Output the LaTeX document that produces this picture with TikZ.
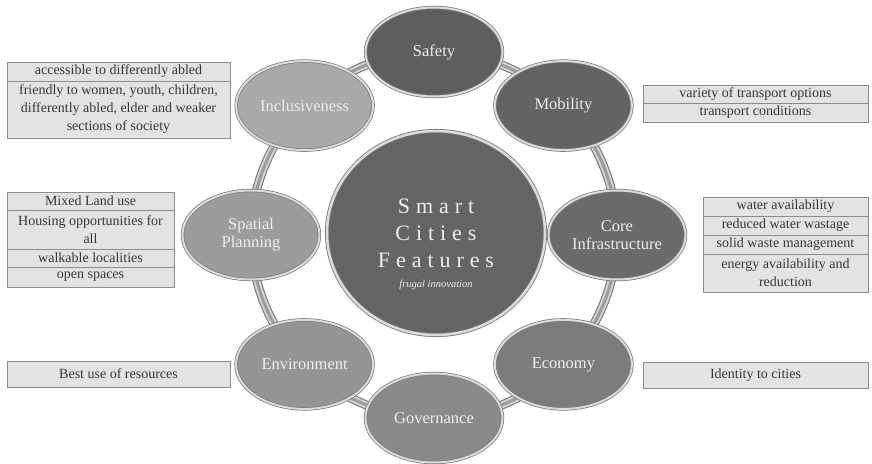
\documentclass[tikz,border=0pt]{standalone}
\usepackage{fontspec}
\setmainfont{Liberation Serif}
\newfontfamily\spacedfont[LetterSpace=27]{Liberation Serif}
\usetikzlibrary{shapes.geometric,backgrounds}
\definecolor{boxfill}{HTML}{E3E3E3}
\definecolor{boxline}{HTML}{8C8C8C}
\definecolor{boxtext}{HTML}{353535}
\definecolor{ringdark}{HTML}{6E6E6E}
\definecolor{ringlight}{HTML}{D2D2D2}
\definecolor{ringmid}{HTML}{9C9C9C}
\definecolor{rimdark}{HTML}{777777}
\definecolor{rimlight}{HTML}{DCDCDC}
\definecolor{ntext}{HTML}{EFEFEF}
\definecolor{cSafety}{HTML}{5E5E5E}
\definecolor{cMobility}{HTML}{636363}
\definecolor{cCore}{HTML}{6A6A6A}
\definecolor{cEconomy}{HTML}{7C7C7C}
\definecolor{cGov}{HTML}{8A8A8A}
\definecolor{cEnv}{HTML}{959595}
\definecolor{cSpatial}{HTML}{9C9C9C}
\definecolor{cIncl}{HTML}{A9A9A9}
\definecolor{cCenter}{HTML}{646464}
\begin{document}
\begin{tikzpicture}[x=1pt,y=-1pt,
  rowbox/.style={draw=boxline, fill=boxfill, line width=0.8pt, inner sep=0pt,
    align=center, text=boxtext, font=\fontsize{14}{18}\selectfont},
  feat/.style={ellipse, minimum width=137pt, minimum height=89pt, inner sep=0pt,
    draw=rimdark, line width=0.7pt, double=rimlight, double distance=2pt,
    text=ntext, align=center, font=\fontsize{16.5}{18}\selectfont},
  tube/.style={line width=9pt, draw=ringdark,
    postaction={draw=ringlight, line width=7pt},
    postaction={draw=ringmid, line width=3pt}}]
\useasboundingbox (0,0) rectangle (872,463);

% outer feature nodes
\node[feat, fill=cSafety]   (safety)  at (434,52)      {Safety};
\node[feat, fill=cMobility] (mobility) at (563.4,105.6) {Mobility};
\node[feat, fill=cCore]     (core)    at (617,235)     {Core\\Infrastructure};
\node[feat, fill=cEconomy]  (economy) at (563.4,364.4) {Economy};
\node[feat, fill=cGov]      (gov)     at (434,418)     {Governance};
\node[feat, fill=cEnv]      (env)     at (304.6,364.4) {Environment};
\node[feat, fill=cSpatial]  (spatial) at (251,235)     {Spatial\\Planning};
\node[feat, fill=cIncl]     (incl)    at (304.6,105.6) {Inclusiveness};

% centre
\node[ellipse, minimum width=218pt, minimum height=204pt, inner sep=0pt,
  fill=cCenter, draw=rimdark, line width=0.8pt, double=rimlight, double distance=2.5pt]
  (center) at (436,233) {};
\node[align=center, text=ntext, inner sep=0pt,
  font=\spacedfont\fontsize{22}{27}\selectfont] (title) at (436,233)
  {Smart\\Cities\\Features};
\node[anchor=base, text=ntext, inner sep=0pt,
  font=\itshape\fontsize{10.5}{12}\selectfont] (sub) at (436,287) {frugal innovation};

% ring connectors
\begin{scope}[on background layer]
\draw[tube] (safety.center)  arc[start angle=90,  end angle=45,   radius=183pt];
\draw[tube] (mobility.center) arc[start angle=45, end angle=0,    radius=183pt];
\draw[tube] (core.center)    arc[start angle=0,   end angle=-45,  radius=183pt];
\draw[tube] (economy.center) arc[start angle=-45, end angle=-90,  radius=183pt];
\draw[tube] (gov.center)     arc[start angle=-90, end angle=-135, radius=183pt];
\draw[tube] (env.center)     arc[start angle=-135,end angle=-180, radius=183pt];
\draw[tube] (spatial.center) arc[start angle=180, end angle=135,  radius=183pt];
\draw[tube] (incl.center)    arc[start angle=135, end angle=90,   radius=183pt];
\end{scope}

% left boxes
\node[rowbox, minimum width=223pt, minimum height=19pt] (inc1) at (118.5,71.5) {accessible to differently abled};
\node[rowbox, minimum width=223pt, minimum height=57pt] (inc2) at (118.5,109.5)
  {friendly to women, youth, children,\\differently abled, elder and weaker\\sections of society};

\node[rowbox, minimum width=167pt, minimum height=18pt] (sp1) at (90.5,201)   {Mixed Land use};
\node[rowbox, minimum width=167pt, minimum height=39pt] (sp2) at (90.5,229.5) {Housing opportunities for\\all};
\node[rowbox, minimum width=167pt, minimum height=18pt] (sp3) at (90.5,258)   {walkable localities};
\node[rowbox, minimum width=167pt, minimum height=20pt] (sp4) at (90.5,277)   {open spaces};

\node[rowbox, minimum width=223pt, minimum height=26pt] (env1) at (118.5,374) {Best use of resources};

% right boxes
\node[rowbox, minimum width=225pt, minimum height=18pt] (mob1) at (755.5,94)    {variety of transport options};
\node[rowbox, minimum width=225pt, minimum height=19pt] (mob2) at (755.5,112.5) {transport conditions};

\node[rowbox, minimum width=165pt, minimum height=19pt] (core1) at (785.5,206.5) {water availability};
\node[rowbox, minimum width=165pt, minimum height=19pt] (core2) at (785.5,225.5) {reduced water wastage};
\node[rowbox, minimum width=165pt, minimum height=19pt] (core3) at (785.5,244.5) {solid waste management};
\node[rowbox, minimum width=165pt, minimum height=38pt] (core4) at (785.5,273)   {energy availability and\\reduction};

\node[rowbox, minimum width=225pt, minimum height=26pt] (eco1) at (755.5,375) {Identity to cities};
\end{tikzpicture}
\end{document}
